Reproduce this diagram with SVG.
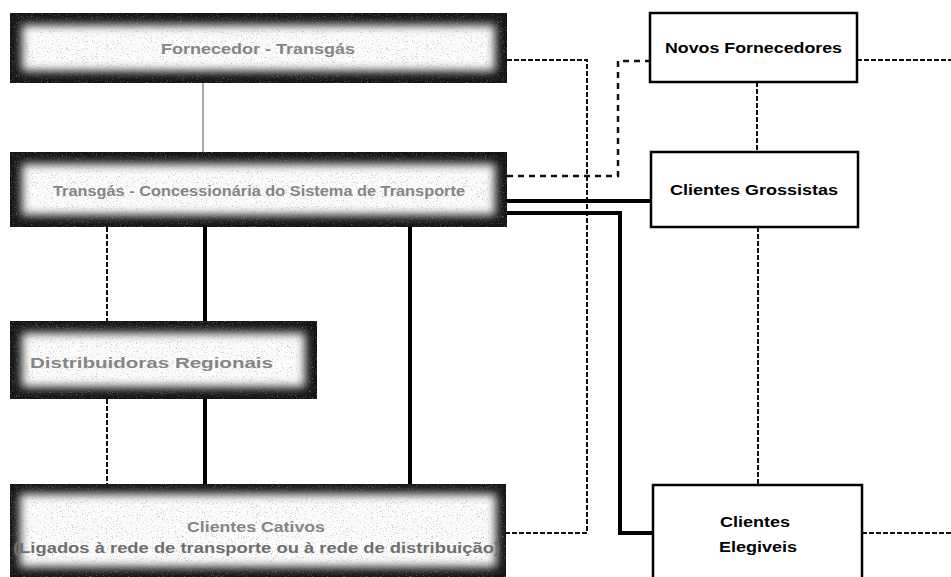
<svg xmlns="http://www.w3.org/2000/svg" width="951" height="577" viewBox="0 0 951 577">
<defs>
  <filter id="soft" x="-20%" y="-50%" width="140%" height="200%">
    <feGaussianBlur stdDeviation="5"/>
  </filter>
  <filter id="noise" x="0" y="0" width="100%" height="100%">
    <feTurbulence type="fractalNoise" baseFrequency="0.8" numOctaves="2" seed="7" result="t"/>
    <feColorMatrix in="t" type="matrix" values="0 0 0 0 0.3  0 0 0 0 0.3  0 0 0 0 0.3  8 0 0 0 -4.9"/>
    <feComposite in2="SourceGraphic" operator="in"/>
  </filter>
</defs>
<style>
  .edge { fill: #151515; }
  .core { fill: #fbfbfb; filter: url(#soft); }
  .spk { fill: #000; filter: url(#noise); opacity: 0.45; }
  .gt { font-family: "Liberation Sans", Arial, sans-serif; font-weight: bold; font-size: 14px; fill: #858585; }
  .gt2 { fill: #6e6e6e; }
  .wb { fill: #fff; stroke: #000; stroke-width: 2.5; }
  .bt { font-family: "Liberation Sans", Arial, sans-serif; font-weight: bold; font-size: 14px; fill: #000; }
  .dt { fill: none; stroke: #111; stroke-width: 2; stroke-dasharray: 5 2; }
  .db { fill: none; stroke: #111; stroke-width: 2.5; stroke-dasharray: 6 5; }
  .ts { fill: none; stroke: #000; stroke-width: 4; }
  .gl { fill: none; stroke: #aaa; stroke-width: 2; }
</style>
<rect width="951" height="577" fill="#fff"/>

<g id="connectors">
  <path class="gl" d="M203,83 V152"/>
  <path class="dt" d="M507,60 H587 V533 H506"/>
  <path class="db" d="M507,176 H618 V61 H650"/>
  <path class="ts" d="M507,201 H651"/>
  <path class="ts" d="M507,213 H620 V533 H653"/>
  <path class="dt" d="M757,82 V152"/>
  <path class="dt" d="M758,227 V485"/>
  <path class="dt" d="M857,60 H951"/>
  <path class="dt" d="M862,533 H951"/>
  <path class="dt" d="M107,227 V321"/>
  <path class="dt" d="M107,399 V484"/>
  <path class="ts" d="M205,227 V321"/>
  <path class="ts" d="M205,399 V484"/>
  <path class="ts" d="M410,227 V484"/>
</g>

<g id="transgas">
  <rect class="edge" x="10" y="13" width="497" height="70"/>
  <rect class="core" x="22" y="25" width="473" height="46"/>
  <rect class="spk" x="10" y="13" width="497" height="70"/>
  <text class="gt" x="161" y="54" textLength="194" lengthAdjust="spacingAndGlyphs">Fornecedor - Transgás</text>
</g>

<g id="concessionaria">
  <rect class="edge" x="10" y="152" width="497" height="75"/>
  <rect class="core" x="22" y="164" width="473" height="51"/>
  <rect class="spk" x="10" y="152" width="497" height="75"/>
  <text class="gt" x="53" y="196" textLength="412" lengthAdjust="spacingAndGlyphs">Transgás - Concessionária do Sistema de Transporte</text>
</g>

<g id="distribuidoras">
  <rect class="edge" x="10" y="321" width="307" height="78"/>
  <rect class="core" x="22" y="333" width="283" height="54"/>
  <rect class="spk" x="10" y="321" width="307" height="78"/>
  <text class="gt" x="30" y="368" textLength="243" lengthAdjust="spacingAndGlyphs">Distribuidoras Regionais</text>
</g>

<g id="cativos">
  <rect class="edge" x="10" y="484" width="496" height="93"/>
  <rect class="core" x="20" y="494" width="476" height="73"/>
  <rect class="spk" x="10" y="484" width="496" height="93"/>
  <text class="gt" x="187" y="532" textLength="138" lengthAdjust="spacingAndGlyphs">Clientes Cativos</text>
  <text class="gt gt2" x="13" y="553" textLength="487" lengthAdjust="spacingAndGlyphs">(Ligados à rede de transporte ou à rede de distribuição)</text>
</g>

<g id="novos">
  <rect class="wb" x="650" y="13" width="207" height="69"/>
  <text class="bt" x="665" y="53" textLength="177" lengthAdjust="spacingAndGlyphs">Novos Fornecedores</text>
</g>

<g id="grossistas">
  <rect class="wb" x="651" y="152" width="207" height="75"/>
  <text class="bt" x="670" y="195" textLength="168" lengthAdjust="spacingAndGlyphs">Clientes Grossistas</text>
</g>

<g id="elegiveis">
  <rect class="wb" x="653" y="485" width="209" height="100"/>
  <text class="bt" x="720" y="527" textLength="70" lengthAdjust="spacingAndGlyphs">Clientes</text>
  <text class="bt" x="719" y="552" textLength="78" lengthAdjust="spacingAndGlyphs">Elegiveis</text>
</g>
</svg>
